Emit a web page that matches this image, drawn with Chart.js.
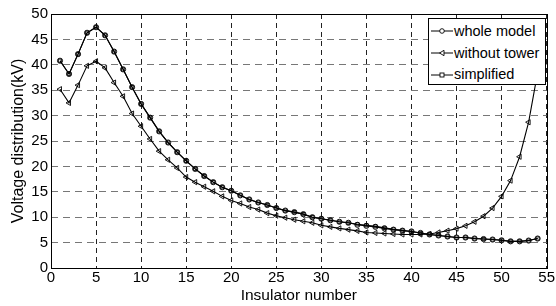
<!DOCTYPE html>
<html>
<head>
<meta charset="utf-8">
<script src="https://cdn.jsdelivr.net/npm/chart.js@4.4.1/dist/chart.umd.min.js"></script>
<style>
  html, body { margin: 0; padding: 0; background: #fff; }
  #wrap { position: relative; width: 556px; height: 306px; }
  #legend {
    position: absolute; left: 428px; top: 18px; width: 118px; height: 67px;
    background: #fff; border: 1px solid #000; box-sizing: border-box;
    font-family: "Liberation Sans", Arial, sans-serif; font-size: 14.5px; color: #000;
    padding-top: 2px;
  }
  #legend div { height: 21.7px; line-height: 21.7px; white-space: nowrap; }
  #legend svg { vertical-align: middle; margin: 0 0 0 2px; position: relative; top: -1px; }
</style>
</head>
<body>
<div id="wrap">
  <canvas id="chart" width="556" height="306"></canvas>
  <div id="legend"></div>
</div>
<script>
// insulator numbers along the string
const insulators = [1, 2, 3, 4, 5, 6, 7, 8, 9, 10, 11, 12, 13, 14, 15, 16, 17, 18, 19, 20,
  21, 22, 23, 24, 25, 26, 27, 28, 29, 30, 31, 32, 33, 34, 35, 36, 37, 38, 39, 40,
  41, 42, 43, 44, 45, 46, 47, 48, 49, 50, 51, 52, 53, 54];

const wholeModel = [40.8, 38.2, 42.1, 46.3, 47.4, 45.8, 42.6, 39.1, 35.6, 32.3,
  29.6, 26.9, 24.7, 22.8, 21.1, 19.5, 18.1, 16.9, 15.9, 15.2,
  14.3, 13.5, 12.9, 12.4, 11.8, 11.3, 11.0, 10.6, 10.0, 9.7,
  9.4, 9.1, 8.9, 8.5, 8.3, 8.1, 7.8, 7.55, 7.35, 7.2,
  6.9, 6.6, 6.4, 6.2, 6.0, 6.0, 5.8, 5.7, 5.6, 5.45,
  5.25, 5.25, 5.4, 5.8];

const withoutTower = [35.2, 32.5, 36.0, 39.8, 40.7, 39.4, 36.5, 33.8, 30.4, 27.9,
  25.4, 23.0, 21.3, 19.7, 17.9, 16.9, 16.0, 15.1, 14.1, 13.3,
  12.7, 12.0, 11.5, 10.8, 10.3, 9.9, 9.5, 9.2, 8.9, 8.4,
  8.1, 7.8, 7.55, 7.3, 7.0, 6.9, 6.8, 6.7, 6.6, 6.6,
  6.6, 6.7, 7.0, 7.35, 7.75, 8.3, 9.1, 10.2, 11.8, 14.1,
  17.2, 21.9, 28.7, 38.5];

const simplified = [40.8, 38.2, 42.1, 46.3, 47.4, 45.8, 42.6, 39.1, 35.6, 32.3,
  29.6, 26.9, 24.7, 22.8, 21.1, 19.5, 18.1, 16.9, 15.9, 15.2,
  14.3, 13.5, 12.9, 12.4, 11.8, 11.3, 11.0, 10.6, 10.0, 9.7,
  9.4, 9.1, 8.9, 8.6, 8.4, 8.2, 7.9, 7.6, 7.4, 7.2,
  6.9, 6.6, 6.4, 6.2, 6.0, 6.0, 5.8, 5.7, 5.6, 5.45,
  5.25, 5.25, 5.4, 5.8];

const xTicks = [0, 5, 10, 15, 20, 25, 30, 35, 40, 45, 50, 55];
const yTicks = [0, 5, 10, 15, 20, 25, 30, 35, 40, 45, 50];

const toPoints = vals => vals.map((v, i) => ({ x: insulators[i], y: v }));
const FONT = "'Liberation Sans', Arial, sans-serif";

// black box around the plot area
const framePlugin = {
  id: 'frame',
  beforeDatasetsDraw(chart) {
    const { ctx, chartArea: a } = chart;
    ctx.save();
    ctx.strokeStyle = '#000';
    ctx.lineWidth = 1;
    ctx.strokeRect(Math.round(a.left) + 0.5, Math.round(a.top) + 0.5,
      Math.round(a.right - a.left), Math.round(a.bottom - a.top));
    ctx.restore();
  }
};

const series = [
  { label: 'whole model', data: wholeModel, style: 'circle', rot: 0, r: 2.6 },
  { label: 'without tower', data: withoutTower, style: 'triangle', rot: -90, r: 3 },
  { label: 'simplified', data: simplified, style: 'rect', rot: 0, r: 2.3 }
];

new Chart(document.getElementById('chart'), {
  type: 'line',
  data: {
    datasets: series.map(s => ({
      label: s.label,
      data: toPoints(s.data),
      borderColor: '#000',
      borderWidth: 1.1,
      pointStyle: s.style,
      pointRotation: s.rot,
      pointRadius: s.r,
      pointBorderWidth: 0.9,
      pointBorderColor: '#000',
      pointBackgroundColor: 'rgba(255,255,255,0)',
      tension: 0
    }))
  },
  options: {
    responsive: false,
    animation: false,
    layout: { padding: { top: 14, right: 8, left: 0, bottom: 0 } },
    plugins: { legend: { display: false }, tooltip: { enabled: false } },
    scales: {
      x: {
        type: 'linear', min: 0, max: 55,
        afterBuildTicks: ax => { ax.ticks = xTicks.map(v => ({ value: v })); },
        afterFit: ax => { ax.height = 38; },
        ticks: { color: '#000', font: { family: FONT, size: 15 }, padding: 1, maxRotation: 0 },
        grid: { color: '#222', lineWidth: 1, tickLength: 0 },
        border: { display: false, dash: [5, 4] },
        title: { display: true, text: 'Insulator number', color: '#000',
          font: { family: FONT, size: 15.5 }, padding: { top: 0, bottom: 1 } }
      },
      y: {
        min: 0, max: 50,
        afterBuildTicks: ax => { ax.ticks = yTicks.map(v => ({ value: v })); },
        afterFit: ax => { ax.width = 51; },
        ticks: { color: '#000', font: { family: FONT, size: 15 }, padding: 3 },
        grid: { color: '#777', lineWidth: 1, tickLength: 0 },
        border: { display: false, dash: [7, 5] },
        title: { display: true, text: 'Voltage distribution(kV)', color: '#000',
          font: { family: FONT, size: 16 }, padding: { top: 9, bottom: 0 } }
      }
    }
  },
  plugins: [framePlugin]
});

// legend box drawn as html so the labels stay real text
const markerSvg = s => {
  let m = '';
  if (s.style === 'circle') m = '<circle cx="11" cy="5" r="2.3" fill="#fff" stroke="#000" stroke-width="0.9"/>';
  if (s.style === 'triangle') m = '<polygon points="8.5,5 13,2.3 13,7.7" fill="#fff" stroke="#000" stroke-width="0.9"/>';
  if (s.style === 'rect') m = '<rect x="9" y="3" width="4" height="4" fill="#fff" stroke="#000" stroke-width="0.9"/>';
  return '<svg width="23" height="10"><line x1="0" y1="5" x2="22" y2="5" stroke="#000" stroke-width="1"/>' + m + '</svg>';
};
document.getElementById('legend').innerHTML = series.map(s =>
  '<div>' + markerSvg(s) + s.label + '</div>').join('');
</script>
</body>
</html>
